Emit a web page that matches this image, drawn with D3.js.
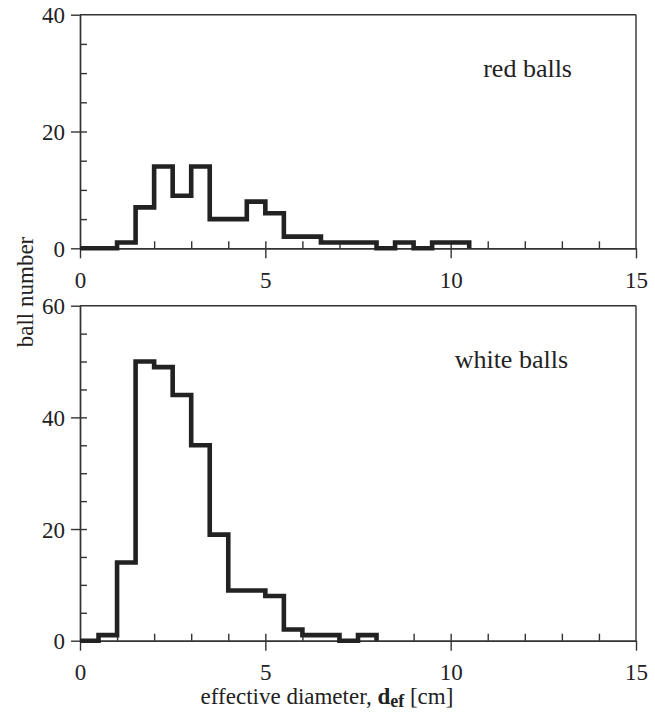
<!DOCTYPE html>
<html>
<head>
<meta charset="utf-8">
<script src="https://cdn.jsdelivr.net/npm/d3@7"></script>
<style>
  body { margin: 0; background: #fff; }
  svg { display: block; font-family: "Liberation Serif", "Times New Roman", serif; }
  .axis path, .axis line { stroke: #333; stroke-width: 1.4; }
  .axis text { font-size: 23px; fill: #222; font-family: "Liberation Serif", serif; }
</style>
</head>
<body>
<div id="viz"></div>
<script>
// histogram counts, bins of 0.5 cm starting at 0
const binWidth = 0.5;
const redCounts = [0, 0, 1, 7, 14, 9, 14, 5, 5, 8, 6, 2, 2, 1, 1, 1, 0, 1, 0, 1, 1];
const whiteCounts = [0, 1, 14, 50, 49, 44, 35, 19, 9, 9, 8, 2, 1, 1, 0, 1];

const xMajor = [0, 5, 10, 15];
const xMinor = d3.range(0, 16, 1).filter(d => d % 5 !== 0);
const redYMajor = [0, 20, 40];
const whiteYMajor = [0, 20, 40, 60];

const W = 655, H = 713;
const x0 = 80, x1 = 636;

const svg = d3.select("#viz").append("svg")
    .attr("width", W)
    .attr("height", H);

const x = d3.scaleLinear().domain([0, 15]).range([x0, x1]);

const panels = [
    {counts: redCounts, max: 40, major: redYMajor, top: 14.7, bottom: 248.3, label: "red balls", lx: 572, ly: 77},
    {counts: whiteCounts, max: 60, major: whiteYMajor, top: 305.7, bottom: 640.7, label: "white balls", lx: 568, ly: 368}
];

panels.forEach(p => {
    const y = d3.scaleLinear().domain([0, p.max]).range([p.bottom, p.top]);
    const g = svg.append("g");

    // frame: top and right
    g.append("line").attr("x1", x0).attr("x2", x1).attr("y1", p.top).attr("y2", p.top)
        .attr("stroke", "#333").attr("stroke-width", 1.4);
    g.append("line").attr("x1", x1).attr("x2", x1).attr("y1", p.top).attr("y2", p.bottom)
        .attr("stroke", "#333").attr("stroke-width", 1.4);

    // left axis: minor ticks inside, major ticks both sides with labels
    const yMinor = d3.range(0, p.max + 1, 5).filter(d => d % 20 !== 0);
    g.append("g").attr("class", "axis").attr("transform", `translate(${x0},0)`)
        .call(d3.axisLeft(y).tickValues(yMinor).tickSize(-7).tickFormat("").tickSizeOuter(0));
    const yAx = g.append("g").attr("class", "axis").attr("transform", `translate(${x0},0)`)
        .call(d3.axisLeft(y).tickValues(p.major).tickSize(9).tickPadding(6).tickSizeOuter(0));
    yAx.selectAll(".tick line").attr("x1", d => (d === p.max || d === 0) ? 0 : 7);
    yAx.selectAll(".tick text").attr("dy", "0.36em");

    // bottom axis
    g.append("g").attr("class", "axis").attr("transform", `translate(0,${p.bottom})`)
        .call(d3.axisBottom(x).tickValues(xMinor).tickSize(-7).tickFormat("").tickSizeOuter(0));
    const xAx = g.append("g").attr("class", "axis").attr("transform", `translate(0,${p.bottom})`)
        .call(d3.axisBottom(x).tickValues(xMajor).tickSize(10).tickPadding(13).tickSizeOuter(0));
    xAx.selectAll(".tick line").attr("y1", d => (d === 0 || d === 15) ? 0 : -7);

    // histogram outline
    const pts = p.counts.map((c, i) => [i * binWidth, c]);
    pts.push([p.counts.length * binWidth, 0]);
    const line = d3.line()
        .x(d => x(d[0]))
        .y(d => y(d[1]))
        .curve(d3.curveStepAfter);
    g.append("path")
        .datum(pts)
        .attr("d", line)
        .attr("fill", "none")
        .attr("stroke", "#222")
        .attr("stroke-width", 4.6)
        .attr("stroke-linejoin", "miter");

    g.append("text")
        .attr("x", p.lx).attr("y", p.ly)
        .attr("text-anchor", "end")
        .attr("font-size", 26).attr("fill", "#222")
        .text(p.label);
});

// axis titles
svg.append("text")
    .attr("transform", "translate(33,292) rotate(-90)")
    .attr("text-anchor", "middle")
    .attr("font-size", 23).attr("fill", "#222")
    .text("ball number");

const xt = svg.append("text")
    .attr("x", 327).attr("y", 704)
    .attr("text-anchor", "middle")
    .attr("font-size", 23).attr("fill", "#222");
xt.append("tspan").text("effective diameter, ");
xt.append("tspan").attr("font-weight", "bold").text("d");
xt.append("tspan").attr("font-weight", "bold").attr("font-size", 18).attr("dy", 3).text("ef");
xt.append("tspan").attr("dy", -3).text(" [cm]");
</script>
</body>
</html>
